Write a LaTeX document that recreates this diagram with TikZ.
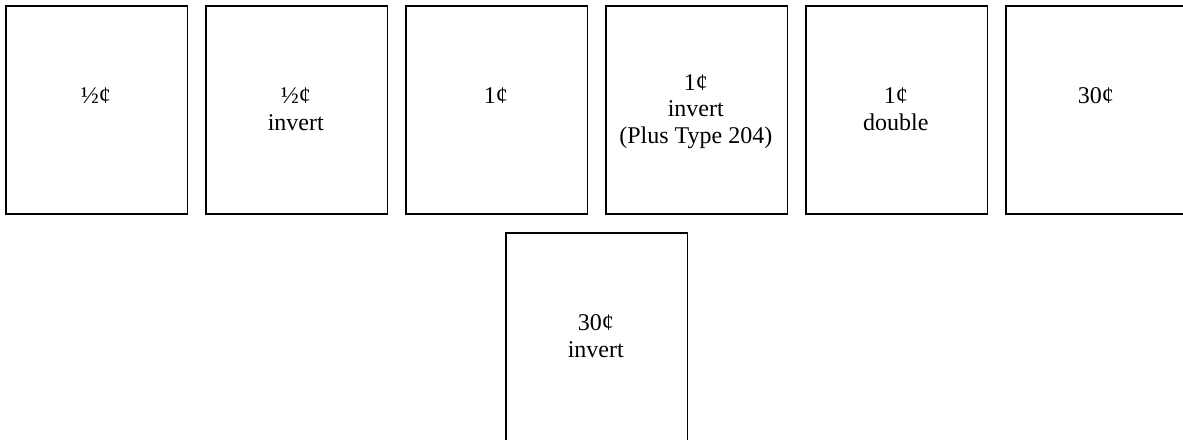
\documentclass[tikz,border=0pt]{standalone}
\usepackage{fontspec}
\setmainfont{Liberation Serif}
\begin{document}
\begin{tikzpicture}[x=1pt,y=-1pt,
  stamp/.style={draw=black, line width=1.5pt, minimum width=181.7pt, minimum height=208pt, inner sep=0pt, anchor=north west},
  lbl/.style={align=center, inner sep=0pt, anchor=base, font=\fontsize{24}{26.3}\selectfont}]
\clip (0,0) rectangle (1183,439);
\node[stamp] (b1) at (5,5) {};
\node[stamp] (b2) at (205,5) {};
\node[stamp] (b3) at (405,5) {};
\node[stamp] (b4) at (605,5) {};
\node[stamp] (b5) at (805,5) {};
\node[stamp] (b6) at (1005,5) {};
\node[stamp] (b7) at (505,232) {};
\node[lbl] (t1) at (95.8,103.3) {½¢};
\node[lbl] (t2) at (295.8,130) {½¢\\invert};
\node[lbl] (t3) at (495.8,103.3) {1¢};
\node[lbl] (t4) at (695.8,143) {1¢\\invert\\(Plus Type 204)};
\node[lbl] (t5) at (895.8,130) {1¢\\double};
\node[lbl] (t6) at (1095.8,103.3) {30¢};
\node[lbl] (t7) at (595.8,357) {30¢\\invert};
\end{tikzpicture}
\end{document}
